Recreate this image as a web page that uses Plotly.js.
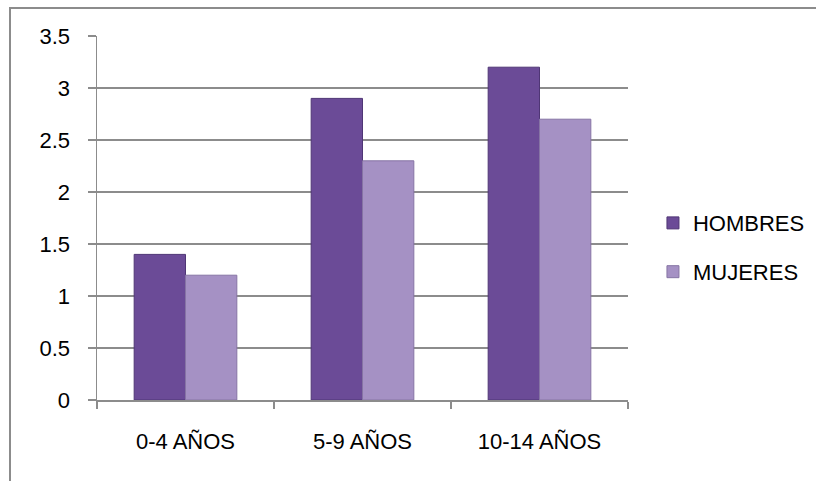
<!DOCTYPE html>
<html>
<head>
<meta charset="utf-8">
<script src="https://cdn.plot.ly/plotly-3.0.1.min.js"></script>
<style>
  html, body { margin: 0; padding: 0; width: 816px; height: 481px; overflow: hidden; background: #fff; }
  #frame { position: absolute; left: 9px; top: 7px; width: 900px; height: 600px; border: 2px solid #8c8c8c; box-sizing: border-box; pointer-events: none; z-index: 5; }
  #chart { position: absolute; left: 0; top: 0; width: 816px; height: 481px; }
</style>
</head>
<body>
<div id="chart"></div>
<div id="frame"></div>
<script>
const categories = ["0-4 AÑOS", "5-9 AÑOS", "10-14 AÑOS"];
const seriesNames = ["HOMBRES", "MUJERES"];
const hombres = [1.4, 2.9, 3.2];
const mujeres = [1.2, 2.3, 2.7];
const yTicks = [0, 0.5, 1, 1.5, 2, 2.5, 3, 3.5];
const yTickText = ["0", "0.5", "1", "1.5", "2", "2.5", "3", "3.5"];

const FONT = "'Liberation Sans', Arial, sans-serif";

const traces = [
  {
    type: "bar", name: seriesNames[0], x: categories, y: hombres,
    marker: { color: "#6B4B97", line: { color: "#4F3675", width: 1 } },
    legend: "legend", hoverinfo: "skip"
  },
  {
    type: "bar", name: seriesNames[1], x: categories, y: mujeres,
    marker: { color: "#A591C4", line: { color: "#8674A4", width: 1 } },
    legend: "legend2", hoverinfo: "skip"
  }
];

const legendCommon = {
  xanchor: "left", yanchor: "middle",
  font: { family: FONT, size: 22, color: "#000" },
  bgcolor: "rgba(0,0,0,0)", borderwidth: 0,
  itemwidth: 30
};

const layout = {
  width: 816, height: 481,
  margin: { l: 97, r: 188, t: 36, b: 81, autoexpand: false },
  paper_bgcolor: "#ffffff", plot_bgcolor: "#ffffff",
  font: { family: FONT, size: 22, color: "#000" },
  barmode: "group",
  bargap: 0.42, bargroupgap: 0,
  showlegend: true,
  legend: Object.assign({ x: 1.047, y: 0.486 }, legendCommon),
  legend2: Object.assign({ x: 1.047, y: 0.352 }, legendCommon),
  xaxis: {
    type: "category",
    tickson: "boundaries",
    ticks: "outside", ticklen: 7, tickwidth: 1.5, tickcolor: "#8c8c8c",
    showline: true, linecolor: "#8c8c8c", linewidth: 1.5,
    showgrid: false,
    ticklabelstandoff: 21,
    tickfont: { family: FONT, size: 22, color: "#000" }
  },
  yaxis: {
    range: [0, 3.5],
    tickvals: yTicks, ticktext: yTickText,
    ticks: "outside", ticklen: 8, tickwidth: 1.5, tickcolor: "#8c8c8c",
    showline: true, linecolor: "#8c8c8c", linewidth: 1.5,
    showgrid: true, gridcolor: "#8c8c8c", gridwidth: 1.5,
    zeroline: false,
    ticklabelstandoff: 13,
    tickfont: { family: FONT, size: 22, color: "#000" }
  }
};

Plotly.newPlot("chart", traces, layout, { staticPlot: true, displayModeBar: false });
</script>
</body>
</html>
